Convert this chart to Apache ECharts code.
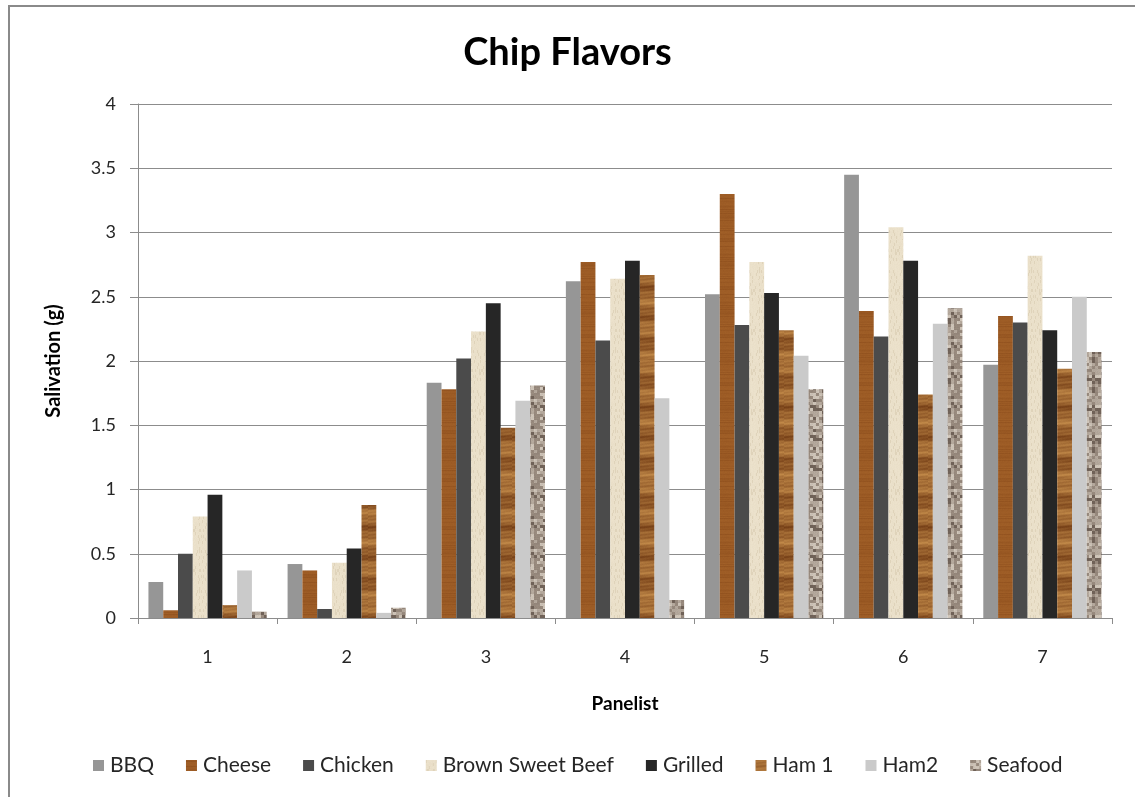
<!DOCTYPE html>
<html>
<head>
<meta charset="utf-8">
<title>Chip Flavors</title>
<script src="https://cdn.jsdelivr.net/npm/echarts@6/dist/echarts.min.js"></script>
<style>
  html, body { margin: 0; padding: 0; background: #ffffff; }
  #frame { position: absolute; left: 8px; top: 5px; right: 0; bottom: 0;
           border-left: 2px solid #8a8a8a; border-top: 2px solid #8a8a8a; }
  #chart { position: absolute; left: 0; top: 0; width: 1135px; height: 797px; }
</style>
</head>
<body>
<div id="frame"></div>
<div id="chart"></div>
<script>
// Panelists on the x axis
const panelists = ['1', '2', '3', '4', '5', '6', '7'];
const yTicks = [0, 0.5, 1, 1.5, 2, 2.5, 3, 3.5, 4];

// Salivation (g) per flavour, one value per panelist
const bbq            = [0.28, 0.42, 1.83, 2.62, 2.52, 3.45, 1.97];
const cheese         = [0.06, 0.37, 1.78, 2.77, 3.30, 2.39, 2.35];
const chicken        = [0.50, 0.07, 2.02, 2.16, 2.28, 2.19, 2.30];
const brownSweetBeef = [0.79, 0.43, 2.23, 2.64, 2.77, 3.04, 2.82];
const grilled        = [0.96, 0.54, 2.45, 2.78, 2.53, 2.78, 2.24];
const ham1           = [0.10, 0.88, 1.48, 2.67, 2.24, 1.74, 1.94];
const ham2           = [0.37, 0.04, 1.69, 1.71, 2.04, 2.29, 2.50];
const seafood        = [0.05, 0.08, 1.81, 0.14, 1.78, 2.41, 2.07];

const FONT = 'Lato, "Open Sans", sans-serif';

// ---- texture fills -------------------------------------------------------
function hash(n) {
  n = (n ^ 61) ^ (n >>> 16);
  n = (n + (n << 3)) | 0;
  n = n ^ (n >>> 4);
  n = Math.imul(n, 0x27d4eb2d);
  n = n ^ (n >>> 15);
  return ((n >>> 0) % 10000) / 10000;
}
function mix(a, b, t) {
  return [0, 1, 2].map(i => Math.round(a[i] + (b[i] - a[i]) * t));
}
function texture(w, h, pixel) {
  const c = document.createElement('canvas');
  c.width = w; c.height = h;
  const ctx = c.getContext('2d');
  const img = ctx.createImageData(w, h);
  for (let y = 0; y < h; y++) {
    for (let x = 0; x < w; x++) {
      const col = pixel(x, y);
      const k = (y * w + x) * 4;
      img.data[k] = col[0]; img.data[k + 1] = col[1]; img.data[k + 2] = col[2]; img.data[k + 3] = 255;
    }
  }
  ctx.putImageData(img, 0, 0);
  return c;
}

// fine-grained orange-brown wood
const cheeseWood = texture(16, 48, (x, y) => {
  const line = hash(y * 7 + 3);
  const t = 0.45 + 0.3 * line + 0.08 * hash(x * 31 + y * 977);
  return mix([128, 66, 20], [168, 102, 44], t);
});

// banded wood with soft darker rings
const hamWood = texture(16, 120, (x, y) => {
  const band = 0.55 + 0.22 * Math.sin(y * 0.23) + 0.15 * Math.sin(y * 0.61 + 1.3)
             + 0.1 * Math.sin(y * 1.7 + x * 0.2);
  const t = Math.max(0, Math.min(1, band + 0.06 * (hash(y * 13 + x * 5) - 0.5)));
  return mix([110, 56, 18], [192, 136, 72], t);
});

// cream, fibrous
const creamFibre = texture(16, 40, (x, y) => {
  const h = hash(x * 101 + Math.floor(y / 3) * 17);
  const t = h > 0.84 ? 0.45 : 0.12 * hash(x * 7 + y * 13);
  return mix([236, 226, 204], [206, 192, 164], t);
});

// speckled granite, warm grey-brown
const granite = texture(30, 30, (x, y) => {
  const h = hash(Math.floor(x / 3) * 131 + Math.floor(y / 3) * 719 + 5);
  const n = 0.06 * (hash(x * 17 + y * 29) - 0.5);
  let base;
  if (h < 0.2) base = [112, 98, 88];
  else if (h < 0.55) base = [150, 136, 124];
  else if (h < 0.85) base = [178, 166, 154];
  else base = [204, 194, 182];
  return base.map(v => Math.round(v * (1 + n)));
});

function pat(canvas) { return { image: canvas, repeat: 'repeat' }; }

const flavours = [
  { name: 'BBQ',              data: bbq,            color: '#969696' },
  { name: 'Cheese',           data: cheese,         color: pat(cheeseWood) },
  { name: 'Chicken',          data: chicken,        color: '#4b4b4b' },
  { name: 'Brown Sweet Beef', data: brownSweetBeef, color: pat(creamFibre) },
  { name: 'Grilled',          data: grilled,        color: '#262626' },
  { name: 'Ham 1',            data: ham1,           color: pat(hamWood) },
  { name: 'Ham2',             data: ham2,           color: '#cacaca' },
  { name: 'Seafood',          data: seafood,        color: pat(granite) }
];

const chart = echarts.init(document.getElementById('chart'), null, { renderer: 'canvas' });

chart.setOption({
  animation: false,
  backgroundColor: 'transparent',
  title: {
    text: 'Chip Flavors',
    left: 'center',
    top: 29,
    textStyle: { fontFamily: FONT, fontWeight: 'bold', fontSize: 38, color: '#000' }
  },
  legend: {
    bottom: 16,
    left: 88,
    itemWidth: 11,
    itemHeight: 11,
    itemGap: 32,
    icon: 'rect',
    textStyle: { fontFamily: FONT, fontSize: 21, color: '#262626', padding: [0, 0, 0, 1] },
    data: flavours.map(f => f.name)
  },
  grid: { left: 138, right: 23, top: 104, bottom: 179, containLabel: false },
  xAxis: {
    type: 'category',
    data: panelists,
    name: 'Panelist',
    nameLocation: 'middle',
    nameGap: 76,
    nameTextStyle: { fontFamily: FONT, fontWeight: 'bold', fontSize: 19, color: '#000' },
    axisLine: { lineStyle: { color: '#8c8c8c', width: 1 } },
    axisTick: { show: true, length: 6, lineStyle: { color: '#8c8c8c' } },
    axisLabel: { fontFamily: FONT, fontSize: 18, color: '#262626', margin: 30 }
  },
  yAxis: {
    type: 'value',
    min: yTicks[0],
    max: yTicks[yTicks.length - 1],
    interval: yTicks[1] - yTicks[0],
    name: 'Salivation (g)',
    nameLocation: 'middle',
    nameGap: 74,
    nameTextStyle: { fontFamily: FONT, fontWeight: 'bold', fontSize: 20, color: '#000' },
    axisLine: { show: true, lineStyle: { color: '#8c8c8c', width: 1 } },
    axisTick: { show: true, length: 8, lineStyle: { color: '#8c8c8c' } },
    axisLabel: { fontFamily: FONT, fontSize: 18, color: '#262626', margin: 22 },
    splitLine: { lineStyle: { color: '#8c8c8c', width: 1 } }
  },
  series: flavours.map(f => ({
    name: f.name,
    type: 'bar',
    data: f.data,
    barGap: '0%',
    barCategoryGap: '15%',
    itemStyle: { color: f.color }
  }))
});
</script>
</body>
</html>
